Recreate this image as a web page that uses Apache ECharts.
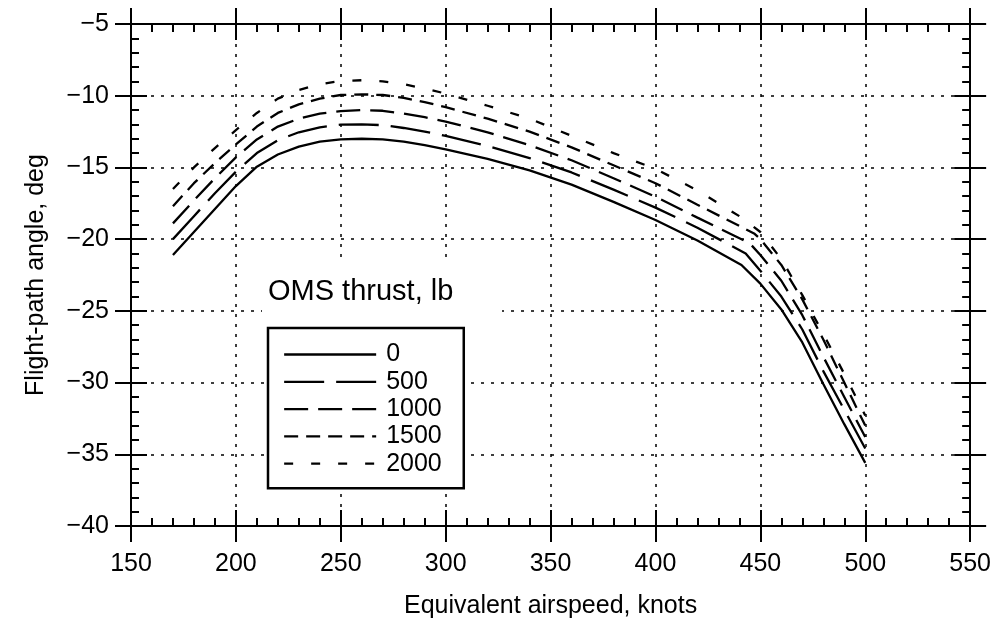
<!DOCTYPE html>
<html>
<head>
<meta charset="utf-8">
<script src="https://cdn.jsdelivr.net/npm/echarts@6/dist/echarts.min.js"></script>
<style>html,body{margin:0;padding:0;background:#fff}#chart{width:994px;height:627px}</style>
</head>
<body>
<div id="chart"></div>
<script>
// ---- data ----
const thrustLabels = ['0', '500', '1000', '1500', '2000'];
const xTicks = [150, 200, 250, 300, 350, 400, 450, 500, 550];
const yTicks = [-40, -35, -30, -25, -20, -15, -10, -5];

const speed0 = [170,180,190,200,210,220,230,240,250,260,270,280,290,300,320,340,360,380,400,420,441,450,460,470,480,490,500];
const angle0 = [-21.1,-19.5,-17.9,-16.3,-14.95,-14.1,-13.55,-13.2,-13.04,-13.0,-13.05,-13.2,-13.45,-13.74,-14.4,-15.2,-16.2,-17.4,-18.67,-20.1,-21.8,-23.1,-24.9,-27.2,-30.1,-32.9,-35.6];

const speed500 = [170,180,190,200,210,220,230,240,250,260,270,280,290,300,320,340,360,380,400,420,443,450,460,470,480,490,500];
const angle500 = [-20.0,-18.4,-16.8,-15.3,-14.0,-13.1,-12.55,-12.2,-12.02,-12.0,-12.05,-12.25,-12.5,-12.8,-13.5,-14.35,-15.35,-16.55,-17.8,-19.2,-21.0,-22.2,-24.0,-26.3,-29.2,-31.9,-34.6];

const speed1000 = [170,180,190,200,210,220,230,240,250,260,270,280,290,300,320,340,360,380,400,420,445,450,460,470,480,490,500];
const angle1000 = [-18.9,-17.3,-15.75,-14.3,-13.05,-12.15,-11.6,-11.25,-11.07,-11.0,-11.05,-11.25,-11.5,-11.8,-12.55,-13.45,-14.5,-15.75,-17.04,-18.5,-20.3,-21.1,-22.9,-25.3,-28.2,-31.0,-33.8];

const speed1500 = [170,180,190,200,210,220,230,240,250,260,270,280,290,300,320,340,360,380,400,420,447,450,460,470,480,490,500];
const angle1500 = [-17.7,-16.1,-14.7,-13.4,-12.15,-11.2,-10.6,-10.2,-9.95,-9.9,-9.95,-10.15,-10.45,-10.8,-11.6,-12.5,-13.6,-14.85,-16.1,-17.6,-19.6,-20.0,-21.8,-24.2,-27.0,-30.0,-33.0];

const speed2000 = [170,180,190,200,210,220,230,240,250,260,270,280,290,300,320,340,360,380,400,420,440,450,460,470,480,490,500];
const angle2000 = [-16.5,-15.0,-13.65,-12.4,-11.2,-10.2,-9.6,-9.2,-8.97,-8.92,-9.0,-9.2,-9.5,-9.85,-10.7,-11.6,-12.8,-14.0,-15.1,-16.6,-18.4,-19.5,-21.4,-23.9,-26.6,-29.4,-32.3];

// ---- styles ----
const FONT = 'Liberation Sans, Arial, Helvetica, sans-serif';
const dashes = ['solid', [40, 12], [24, 10], [14, 8], [9, 18]];
const speeds = [speed0, speed500, speed1000, speed1500, speed2000];
const angles = [angle0, angle500, angle1000, angle1500, angle2000];

const minus = v => String(v).replace('-', '\u2212');

function xAx(pos, inside, main) {
  return {
    type: 'value', position: pos, min: xTicks[0], max: xTicks[xTicks.length - 1], interval: 50,
    axisLine: { show: main, onZero: false, lineStyle: { color: '#000', width: 2 } },
    axisTick: { show: true, inside: inside, length: 16, lineStyle: { color: '#000', width: 2 } },
    minorTick: { show: inside, splitNumber: 5, length: 8, lineStyle: { color: '#000', width: 2 } },
    axisLabel: { show: main && pos === 'bottom', margin: 26, color: '#000', fontSize: 25, fontFamily: FONT },
    splitLine: { show: main && pos === 'bottom', lineStyle: { color: '#000', width: 1.5, type: [3, 7] } },
    name: (main && pos === 'bottom') ? 'Equivalent airspeed, knots' : '',
    nameLocation: 'middle', nameGap: 68,
    nameTextStyle: { color: '#000', fontSize: 25, fontFamily: FONT }
  };
}
function yAx(pos, inside, main) {
  return {
    type: 'value', position: pos, min: yTicks[0], max: yTicks[yTicks.length - 1], interval: 5,
    axisLine: { show: main, onZero: false, lineStyle: { color: '#000', width: 2 } },
    axisTick: { show: true, inside: inside, length: 16, lineStyle: { color: '#000', width: 2 } },
    minorTick: { show: inside, splitNumber: 5, length: 8, lineStyle: { color: '#000', width: 2 } },
    axisLabel: { show: main && pos === 'left', margin: 22, color: '#000', fontSize: 25, fontFamily: FONT, formatter: minus },
    splitLine: { show: main && pos === 'left', lineStyle: { color: '#000', width: 1.5, type: [3, 7] } },
    name: (main && pos === 'left') ? 'Flight-path angle, deg' : '',
    nameLocation: 'middle', nameGap: 82,
    nameTextStyle: { color: '#000', fontSize: 25, fontFamily: FONT }
  };
}

const series = thrustLabels.map((name, k) => ({
  name: name, type: 'line', xAxisIndex: 0, yAxisIndex: 0,
  data: speeds[k].map((x, i) => [x, angles[k][i]]),
  showSymbol: false, symbol: 'none', smooth: false, animation: false,
  lineStyle: { color: '#000', width: 2.3, type: dashes[k], cap: 'butt' },
  itemStyle: { color: '#000' }
}));

const chart = echarts.init(document.getElementById('chart'), null, { renderer: 'canvas' });
chart.setOption({
  backgroundColor: '#fff',
  animation: false,
  grid: { left: 131, right: 22, top: 24, bottom: 101, containLabel: false },
  xAxis: [xAx('bottom', true, true), xAx('bottom', false, false), xAx('top', true, true), xAx('top', false, false)],
  yAxis: [yAx('left', true, true), yAx('left', false, false), yAx('right', true, true), yAx('right', false, false)],
  legend: {
    orient: 'vertical', left: 268, top: 328,
    data: thrustLabels.map((n, k) => ({
      name: n,
      itemStyle: { opacity: 0 },
      lineStyle: { color: '#000', width: 2.3, type: dashes[k], cap: 'butt', opacity: 1 }
    })),
    itemStyle: { opacity: 0 },
    itemWidth: 92, itemHeight: 14, itemGap: 2.3,
    padding: [14, 22, 12, 15],
    backgroundColor: '#fff', borderColor: '#000', borderWidth: 2.5,
    textStyle: { color: '#000', fontSize: 25, fontFamily: FONT, lineHeight: 24, padding: [0, 0, 0, 5] }
  },
  graphic: [
    { type: 'rect', left: 262, top: 262, shape: { width: 240, height: 66 }, style: { fill: '#fff' }, z: 3 },
    { type: 'text', left: 268, top: 277, z: 4, style: { text: 'OMS thrust, lb', fill: '#000', font: '29px ' + FONT } }
  ],
  series: series
});
</script>
</body>
</html>
